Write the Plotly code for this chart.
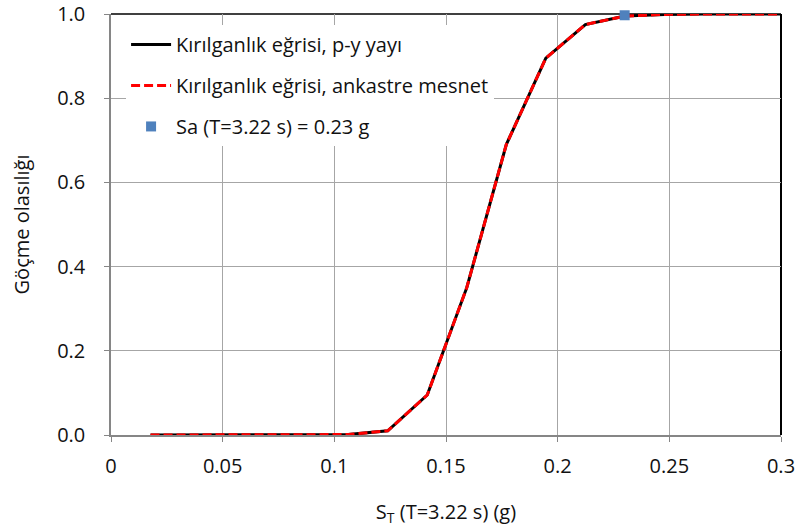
import plotly.graph_objects as go

# Data
st_values = [0.0177, 0.0354, 0.0531, 0.0708, 0.0885, 0.1062, 0.1239, 0.1416,
             0.1593, 0.177, 0.1947, 0.2124, 0.2301, 0.2478, 0.2655, 0.2832, 0.3009]
prob_py = [0.0, 0.0, 0.0, 0.0, 0.0, 0.001, 0.01, 0.095, 0.35, 0.69, 0.895,
           0.975, 0.995, 0.999, 1.0, 1.0, 1.0]
prob_fixed = [0.0, 0.0, 0.0, 0.0, 0.0, 0.001, 0.01, 0.095, 0.35, 0.69, 0.895,
              0.975, 0.995, 0.999, 1.0, 1.0, 1.0]
sa_x = [0.23]
sa_y = [0.997]

x_ticks = [0, 0.05, 0.1, 0.15, 0.2, 0.25, 0.3]
x_tick_text = ["0", "0.05", "0.1", "0.15", "0.2", "0.25", "0.3"]
y_ticks = [0.0, 0.2, 0.4, 0.6, 0.8, 1.0]
y_tick_text = ["0.0", "0.2", "0.4", "0.6", "0.8", "1.0"]

FONT = "Open Sans"
TXT = "#111111"
FS = 20

fig = go.Figure()
fig.add_trace(go.Scatter(
    x=st_values, y=prob_py, mode="lines",
    name="Kırılganlık eğrisi, p-y yayı",
    line=dict(color="black", width=3), legendgroup="a", cliponaxis=False))
fig.add_trace(go.Scatter(
    x=st_values, y=prob_fixed, mode="lines",
    name="Kırılganlık eğrisi, ankastre mesnet",
    line=dict(color="#FF0000", width=3, dash="9px,4px"), legendgroup="b", cliponaxis=False))
fig.add_trace(go.Scatter(
    x=sa_x, y=sa_y, mode="markers",
    name="Sa (T=3.22 s) = 0.23 g",
    marker=dict(symbol="square", size=10, color="#4F81BD"), legendgroup="c", cliponaxis=False))

axis_common = dict(
    showgrid=True, gridcolor="#A6A6A6", gridwidth=1,
    showline=True, linecolor="#868686", linewidth=1.5,
    ticks="outside", ticklen=5, tickcolor="#868686",
    tickfont=dict(family=FONT, size=FS, color=TXT),
    zeroline=False, automargin=False,
)

fig.update_xaxes(range=[0, 0.3], tickvals=x_ticks, ticktext=x_tick_text,
                 ticklabelstandoff=7,
                 title=dict(text="S<sub>T</sub> (T=3.22 s) (g)",
                            font=dict(family=FONT, size=FS, color=TXT),
                            standoff=33),
                 **axis_common)
fig.update_yaxes(range=[0, 1.0], tickvals=y_ticks, ticktext=y_tick_text,
                 ticklabelstandoff=15,
                 title=dict(text="Göçme olasılığı",
                            font=dict(family=FONT, size=FS, color=TXT),
                            standoff=22),
                 **axis_common)

# top and right plot-area border (black)
fig.add_shape(type="line", xref="paper", yref="paper", x0=0, x1=1, y0=1, y1=1,
              line=dict(color="black", width=1.5), layer="below")
fig.add_shape(type="line", xref="paper", yref="paper", x0=1, x1=1, y0=0, y1=1,
              line=dict(color="black", width=2), layer="below")

fig.update_layout(
    width=796, height=527,
    margin=dict(l=111, r=15, t=14, b=92),
    plot_bgcolor="white", paper_bgcolor="white",
    font=dict(family=FONT, size=FS, color=TXT),
    legend=dict(x=0.0225, y=0.974, xanchor="left", yanchor="top",
                bgcolor="white", borderwidth=0,
                font=dict(family=FONT, size=FS, color=TXT),
                tracegroupgap=12, itemwidth=40),
    showlegend=True,
)

# remove the default 8px page margin so the figure sits at the window origin
fig.write_html("out.html",
               config={"displayModeBar": False},
               post_script="document.body.style.margin='0px';document.body.style.overflow='hidden';")
